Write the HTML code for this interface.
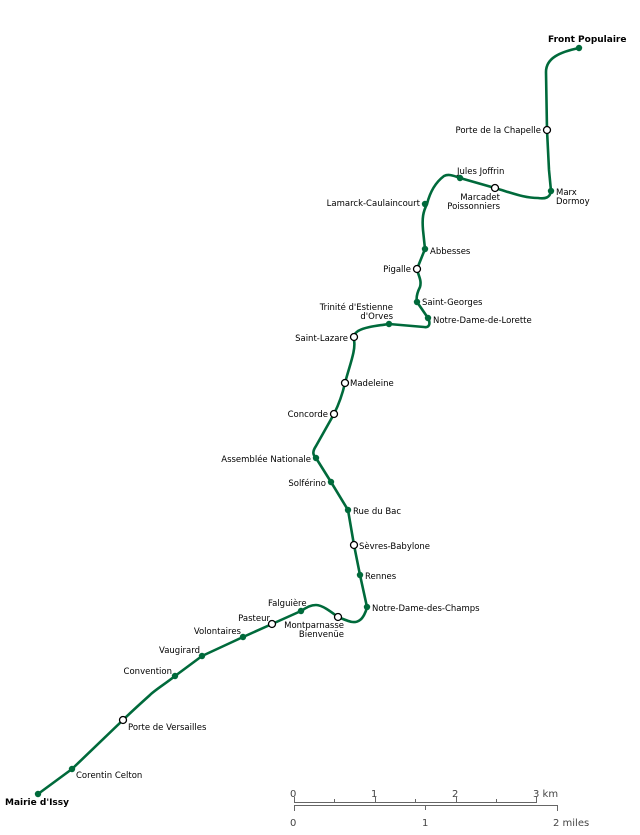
<!DOCTYPE html>
<html><head><meta charset="utf-8"><style>
html,body{margin:0;padding:0;background:#fff;}
svg{display:block;}
text{font-family:"DejaVu Sans","Liberation Sans",sans-serif;font-size:8.5px;fill:#000;}
.b{font-weight:bold;font-size:9px;}
.s{fill:#444;font-size:10px;}
</style></head><body>
<svg width="640" height="835" viewBox="0 0 640 835" xmlns="http://www.w3.org/2000/svg">
<path d="M579,48 C560,52 546,58 546,72 L547,130 L549,170 L551,191 C550,198 545,199 538,198 C525,198 515,194 495,188 L460,178 C452,175 448,174 444,176 C436,182 430,192 427,204 C423,212 422,218 423,230 L425,249 L417,269 C418,275 422,280 420,287 C417,293 416,298 417,302 L428,318 C431,324 429,328 424,327 L389,324 C375,326 365,327 358,331 C354,334 353,336 354,340 C356,350 350,364 345,383 C342,396 339,404 334,414 L316,446 C312,452 313,455 316,458 L331,482 L348,510 L354,545 L360,575 L367,607 C366,612 363,618 360,620 C355,624 350,622 338,617 C330,611 322,605 316,605 C310,605 306,608 301,611 L272,624 L243,637 L202,656 L175,676 C165,684 155,690 150,695 C140,704 130,713 123,720 L72,769 L38,794" fill="none" stroke="#006a3b" stroke-width="2.6" stroke-linejoin="round" stroke-linecap="round"/>
<g fill="#006a3b">
<circle cx="579" cy="48" r="3.2"/><circle cx="551" cy="191" r="3.2"/><circle cx="460" cy="178" r="3.2"/>
<circle cx="425" cy="204" r="3.2"/><circle cx="425" cy="249" r="3.2"/><circle cx="417" cy="302" r="3.2"/>
<circle cx="428" cy="318" r="3.2"/><circle cx="389" cy="324" r="3.2"/><circle cx="316" cy="458" r="3.2"/>
<circle cx="331" cy="482" r="3.2"/><circle cx="348" cy="510" r="3.2"/><circle cx="360" cy="575" r="3.2"/>
<circle cx="367" cy="607" r="3.2"/><circle cx="301" cy="611" r="3.2"/><circle cx="243" cy="637" r="3.2"/>
<circle cx="202" cy="656" r="3.2"/><circle cx="175" cy="676" r="3.2"/><circle cx="72" cy="769" r="3.2"/>
<circle cx="38" cy="794" r="3.2"/>
</g>
<g fill="#fff" stroke="#000" stroke-width="1.3">
<circle cx="547" cy="130" r="3.5"/><circle cx="495" cy="188" r="3.5"/><circle cx="417" cy="269" r="3.5"/>
<circle cx="354" cy="337" r="3.5"/><circle cx="345" cy="383" r="3.5"/><circle cx="334" cy="414" r="3.5"/>
<circle cx="354" cy="545" r="3.5"/><circle cx="338" cy="617" r="3.5"/><circle cx="272" cy="624" r="3.5"/>
<circle cx="123" cy="720" r="3.5"/>
</g>
<text class="b" x="548" y="42">Front Populaire</text>
<text x="541" y="133" text-anchor="end">Porte de la Chapelle</text>
<text x="556" y="195">Marx</text><text x="556" y="204">Dormoy</text>
<text x="457" y="174">Jules Joffrin</text>
<text x="500" y="200" text-anchor="end">Marcadet</text><text x="500" y="209" text-anchor="end">Poissonniers</text>
<text x="420" y="206" text-anchor="end">Lamarck-Caulaincourt</text>
<text x="430" y="254">Abbesses</text>
<text x="411" y="272" text-anchor="end">Pigalle</text>
<text x="422" y="305">Saint-Georges</text>
<text x="433" y="323">Notre-Dame-de-Lorette</text>
<text x="393" y="310" text-anchor="end">Trinité d'Estienne</text><text x="393" y="319" text-anchor="end">d'Orves</text>
<text x="348" y="341" text-anchor="end">Saint-Lazare</text>
<text x="350" y="386">Madeleine</text>
<text x="328" y="417" text-anchor="end">Concorde</text>
<text x="311" y="462" text-anchor="end">Assemblée Nationale</text>
<text x="326" y="486" text-anchor="end">Solférino</text>
<text x="353" y="514">Rue du Bac</text>
<text x="359" y="549">Sèvres-Babylone</text>
<text x="365" y="579">Rennes</text>
<text x="372" y="611">Notre-Dame-des-Champs</text>
<text x="268" y="606">Falguière</text>
<text x="344" y="628" text-anchor="end">Montparnasse</text><text x="344" y="637" text-anchor="end">Bienvenüe</text>
<text x="270" y="621" text-anchor="end">Pasteur</text>
<text x="241" y="634" text-anchor="end">Volontaires</text>
<text x="200" y="653" text-anchor="end">Vaugirard</text>
<text x="172" y="674" text-anchor="end">Convention</text>
<text x="128" y="730">Porte de Versailles</text>
<text x="76" y="778">Corentin Celton</text>
<text class="b" x="5" y="805">Mairie d'Issy</text>
<g stroke="#666" stroke-width="1" fill="none">
<path d="M294.5,797 V802.5 H536.5 V797"/>
<path d="M334.5,799 V802 M375.5,797 V802 M415.5,799 V802 M456.5,797 V802 M496.5,799 V802"/>
<path d="M294.5,811 V805.5 H557.5 V811"/>
<path d="M425.5,806 V810"/>
</g>
<text class="s" x="290" y="797">0</text><text class="s" x="371" y="797">1</text>
<text class="s" x="452" y="797">2</text><text class="s" x="533" y="797">3 km</text>
<text class="s" x="290" y="826">0</text><text class="s" x="422" y="826">1</text>
<text class="s" x="553" y="826">2 miles</text>
</svg>
</body></html>
